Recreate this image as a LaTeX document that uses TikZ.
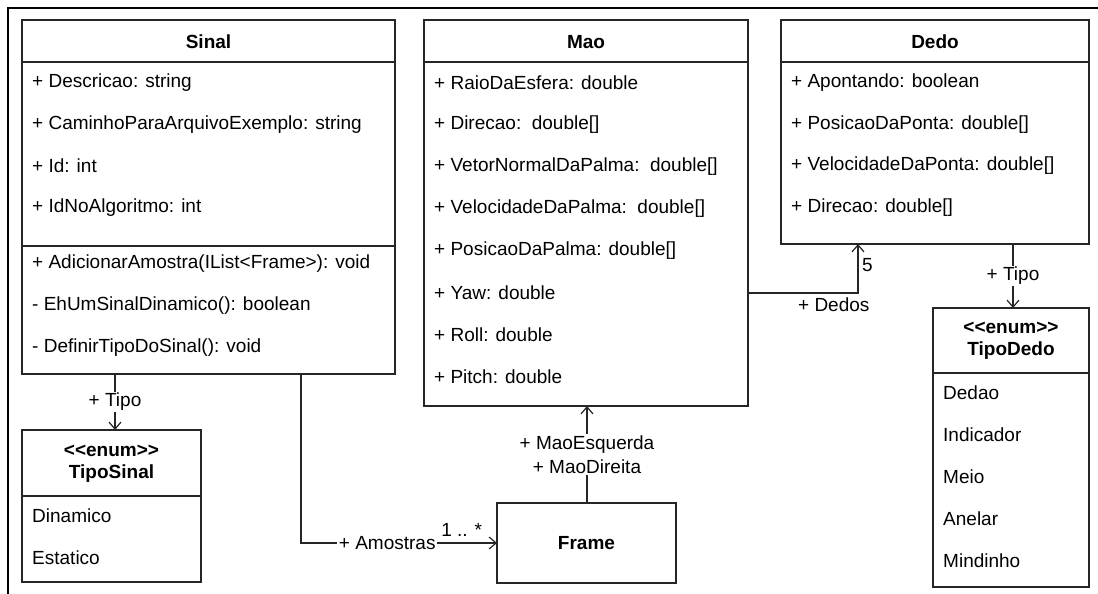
\documentclass[tikz,border=0pt]{standalone}
\usepackage{fontspec}
\setmainfont{Liberation Sans}
\usetikzlibrary{arrows.meta}
\tikzset{
  box/.style={draw=black!85, line width=1.3pt, inner sep=0pt, outer sep=0pt, anchor=north west, fill=none},
  sep/.style={draw=black!85, line width=1.3pt},
  txt/.style={inner sep=0pt, font=\fontsize{19}{22}\selectfont, anchor=west},
  ttl/.style={inner sep=0pt, font=\fontsize{19}{22}\selectfont\bfseries, align=center},
  lbl/.style={inner sep=1.5pt, font=\fontsize{19}{23.5}\selectfont, fill=white, align=center},
  lblc/.style={inner sep=1.5pt, font=\fontsize{19}{22}\selectfont},
  assoc/.style={draw=black!85, line width=1.2pt, -{Straight Barb[length=7pt,width=12pt,line width=1.2pt]}},
  frameline/.style={draw=black, line width=1.8pt}
}
\begin{document}
\begin{tikzpicture}[x=1pt,y=-1pt]
\useasboundingbox (0,0) rectangle (1098,594);
\draw[frameline] (1098,8) -- (8,8) -- (8,594);

% Boxes
\node[box, minimum width=373pt, minimum height=354pt] (sinal) at (22,20) {};
\node[box, minimum width=324pt, minimum height=386pt] (mao) at (424,20) {};
\node[box, minimum width=308pt, minimum height=224pt] (dedo) at (781,20) {};
\node[box, minimum width=179pt, minimum height=152pt] (tiposinal) at (22,430) {};
\node[box, minimum width=179pt, minimum height=80pt] (frame) at (497,503) {};
\node[box, minimum width=156pt, minimum height=279pt] (tipodedo) at (933,308) {};

% Separators
\draw[sep] (sinal.west |- 0,62) -- (sinal.east |- 0,62);
\draw[sep] (sinal.west |- 0,246) -- (sinal.east |- 0,246);
\draw[sep] (mao.west |- 0,62) -- (mao.east |- 0,62);
\draw[sep] (dedo.west |- 0,62) -- (dedo.east |- 0,62);
\draw[sep] (tiposinal.west |- 0,496) -- (tiposinal.east |- 0,496);
\draw[sep] (tipodedo.west |- 0,373) -- (tipodedo.east |- 0,373);

% Titles
\node[ttl] (tsinal) at (sinal.north |- 0,42) {Sinal};
\node[ttl] (tmao) at (mao.north |- 0,42) {Mao};
\node[ttl] (tdedo) at (dedo.north |- 0,42) {Dedo};
\node[ttl] (tframe) at (frame.center) {Frame};
\node[ttl] (ttiposinal) at (tiposinal.north |- 0,464) {{<}{<}enum{>}{>}\\TipoSinal};
\node[ttl] (ttipodedo) at (tipodedo.north |- 0,341) {{<}{<}enum{>}{>}\\TipoDedo};

% Sinal attributes
\foreach \t [count=\i] in {{+ Descricao: string},{+ CaminhoParaArquivoExemplo: string},{+ Id: int},{+ IdNoAlgoritmo: int}}
  \node[txt] (sa\i) at (32,41.5+41.5*\i) {\t};
\foreach \t [count=\i] in {{+ AdicionarAmostra(IList{<}Frame{>}): void},{- EhUmSinalDinamico(): boolean},{- DefinirTipoDoSinal(): void}}
  \node[txt] (so\i) at (32,222+42*\i) {\t};
% Mao attributes
\foreach \t [count=\i] in {{+ RaioDaEsfera: double},{+ Direcao:\ \ double[]},{+ VetorNormalDaPalma:\ \ double[]},{+ VelocidadeDaPalma:\ \ double[]},{+ PosicaoDaPalma: double[]},{+ Yaw: double},{+ Roll: double},{+ Pitch: double}}
  \node[txt] (ma\i) at (434,41+42*\i) {\t};
% Dedo attributes
\foreach \t [count=\i] in {{+ Apontando: boolean},{+ PosicaoDaPonta: double[]},{+ VelocidadeDaPonta: double[]},{+ Direcao: double[]}}
  \node[txt] (da\i) at (791,41.5+41.5*\i) {\t};
% Enums
\foreach \t [count=\i] in {Dinamico,Estatico}
  \node[txt] (ts\i) at (32,474+42*\i) {\t};
\foreach \t [count=\i] in {Dedao,Indicador,Meio,Anelar,Mindinho}
  \node[txt] (td\i) at (943,351+42*\i) {\t};

% Connectors
\coordinate (c1) at (115,0);
\coordinate (c2) at (301,0);
\coordinate (c3) at (587,0);
\coordinate (c4) at (858,293);
\coordinate (c5) at (1013,0);

\draw[assoc] (sinal.south -| c1) -- node[lbl] (l1) {+ Tipo} (tiposinal.north -| c1);
\draw[assoc] (sinal.south -| c2) |- node[lbl, pos=0.72] (l2) {+ Amostras}
  node[lblc, pos=0.91, above=4pt] (l2m) {1 .. *} (frame.west);
\draw[assoc] (frame.north -| c3) -- node[lbl] (l3) {+ MaoEsquerda\\+ MaoDireita} (mao.south -| c3);
\draw[assoc] (mao.east |- c4) -| node[lblc, pos=0.39, below=3pt] (l4) {+ Dedos}
  node[lblc, pos=0.79, right=2pt] (l4m) {5} (dedo.south -| c4);
\draw[assoc] (dedo.south -| c5) -- node[lbl] (l5) {+ Tipo} (tipodedo.north -| c5);
\end{tikzpicture}
\end{document}
